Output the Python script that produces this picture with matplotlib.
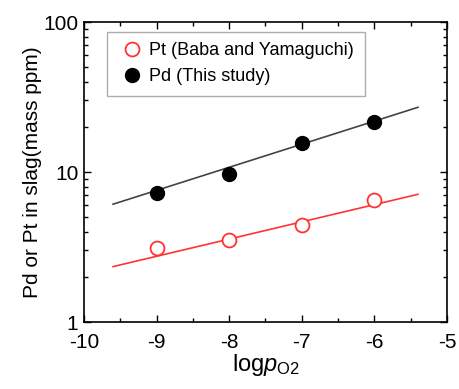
import matplotlib
matplotlib.use("Agg")
import matplotlib.pyplot as plt
from matplotlib.ticker import LogLocator, FixedLocator, FixedFormatter, MultipleLocator, NullFormatter

plt.rcParams["font.family"] = ["Liberation Sans", "DejaVu Sans"]
plt.rcParams["mathtext.fontset"] = "custom"
plt.rcParams["mathtext.rm"] = "Liberation Sans"
plt.rcParams["mathtext.it"] = "Liberation Sans:italic"
plt.rcParams["axes.unicode_minus"] = False

# measured points
log_po2 = [-9, -8, -7, -6]
pd_ppm = [7.2, 9.7, 15.5, 21.6]
pt_ppm = [3.1, 3.5, 4.4, 6.5]

# fitted lines (end points)
fit_x = [-9.6, -5.4]
pd_fit = [6.1, 27.0]
pt_fit = [2.34, 7.1]

y_ticks = [1, 10, 100]
y_labels = ["1", "10", "100"]

fig = plt.figure(figsize=(4.6, 3.89), dpi=100)
ax = fig.add_axes([84 / 460, 1 - 322 / 389, 363 / 460, 300 / 389])

ax.plot(fit_x, pd_fit, color="#444444", lw=1.2)
ax.plot(fit_x, pt_fit, color="#ff3333", lw=1.2)
ax.plot(log_po2, pt_ppm, "o", ms=10, mfc="white", mec="#ff3333", mew=1.3,
        label="Pt (Baba and Yamaguchi)")
ax.plot(log_po2, pd_ppm, "o", ms=10, mfc="black", mec="black",
        label="Pd (This study)")

ax.set_yscale("log")
ax.set_xlim(-10, -5)
ax.set_ylim(1, 100)
ax.xaxis.set_major_locator(MultipleLocator(1))
ax.xaxis.set_minor_locator(MultipleLocator(0.5))
ax.yaxis.set_major_locator(FixedLocator(y_ticks))
ax.yaxis.set_major_formatter(FixedFormatter(y_labels))
ax.yaxis.set_minor_locator(LogLocator(base=10, subs=range(2, 10)))
ax.yaxis.set_minor_formatter(NullFormatter())

ax.tick_params(which="both", direction="in", top=True, right=True, labelsize=15)
ax.tick_params(which="major", length=5, width=1)
ax.tick_params(which="minor", length=3, width=1)
ax.tick_params(axis="x", pad=8)
ax.tick_params(axis="y", pad=4)
for s in ax.spines.values():
    s.set_linewidth(1.2)

ax.set_ylabel("Pd or Pt in slag(mass ppm)", fontsize=15, labelpad=1)
ax.set_xlabel(r"log$p_{\mathrm{O2}}$", fontsize=17, labelpad=0)

leg = ax.legend(loc="upper left", bbox_to_anchor=(0.063, 0.968), fontsize=13,
                frameon=True, fancybox=False, edgecolor="#999999",
                handletextpad=0.15, handlelength=1.6, borderpad=0.6,
                labelspacing=0.5, borderaxespad=0)
leg.get_frame().set_linewidth(1.0)

fig.savefig("out.png", dpi=100)
